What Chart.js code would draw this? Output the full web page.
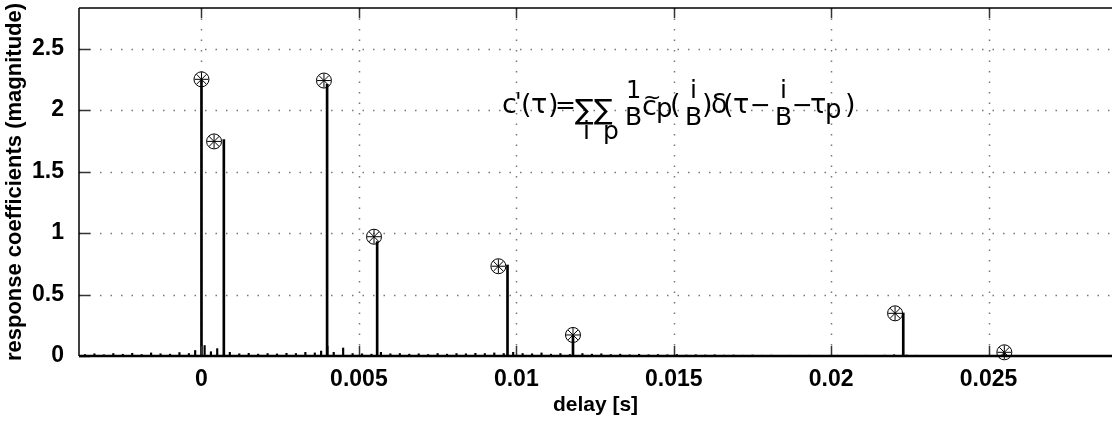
<!DOCTYPE html>
<html>
<head>
<meta charset="utf-8">
<script src="https://cdn.jsdelivr.net/npm/chart.js@4.4.0/dist/chart.umd.min.js"></script>
<style>
  html,body{margin:0;padding:0;background:#fff;overflow:hidden;}
  #chartResp{display:block;}
</style>
</head>
<body>
<canvas id="chartResp" width="1112" height="422"></canvas>
<script>
const xTicks = [0, 0.005, 0.01, 0.015, 0.02, 0.025];
const xTickLabels = ['0', '0.005', '0.01', '0.015', '0.02', '0.025'];
const yTicks = [0, 0.5, 1, 1.5, 2, 2.5];
const yTickLabels = ['0', '0.5', '1', '1.5', '2', '2.5'];

// main stems (delay in s, magnitude)
const stemDelay = [0.0000, 0.00071, 0.00399, 0.00558, 0.00972, 0.0118, 0.02229, 0.0255];
const stemMag   = [2.24,   1.76,    2.21,    0.93,    0.74,    0.17,   0.35,    0.02];

// circled asterisk markers
const markDelay = [0.0000, 0.00040, 0.00389, 0.00548, 0.00943, 0.0118, 0.02203, 0.0255];
const markMag   = [2.25,   1.745,   2.24,    0.97,    0.73,    0.171,  0.347,   0.03];

// small sidelobes along the base line
const noiseDelay = [-0.0037,-0.0034,-0.0031,-0.0028,-0.0025,-0.0022,-0.0019,-0.0016,-0.0013,-0.0010,
  -0.0007,-0.0004,-0.0002,0.0001,0.0003,0.0005,0.0009,0.0012,0.0015,0.0018,
  0.0021,0.0024,0.0027,0.0030,0.0033,0.0036,0.0038,0.0040,0.0042,0.0045,
  0.0048,0.0051,0.0054,0.0057,0.0060,0.0063,0.0066,0.0069,0.0072,0.0075,
  0.0078,0.0081,0.0084,0.0087,0.0090,0.0093,0.0096,0.0099,0.0102,0.0105,
  0.0108,0.0111,0.0114,0.0117,0.0121,0.0124,0.0127,0.0130,0.0133,0.0136,
  0.0139,0.0142,0.0145,0.0148,0.0151,0.0154,0.0157,0.0160,0.0163,0.0166,
  0.0169,0.0172,0.0175,0.0178,0.0181,0.0184,0.0187,0.0190,0.0193,0.0196,
  0.0199,0.0202,0.0205,0.0208,0.0211,0.0214,0.0217,0.0220,0.0224,0.0227,0.0230];
const noiseMag = [0.012,0.018,0.010,0.020,0.014,0.022,0.012,0.025,0.018,0.015,
  0.028,0.020,0.045,0.085,0.035,0.060,0.030,0.018,0.022,0.015,
  0.020,0.017,0.022,0.020,0.030,0.025,0.040,0.080,0.030,0.065,
  0.020,0.018,0.015,0.030,0.018,0.020,0.015,0.018,0.012,0.020,
  0.015,0.020,0.018,0.022,0.020,0.025,0.020,0.030,0.020,0.018,
  0.025,0.015,0.020,0.012,0.020,0.015,0.018,0.012,0.015,0.010,
  0.014,0.010,0.012,0.010,0.012,0.008,0.010,0.008,0.010,0.007,
  0.008,0.006,0.008,0.006,0.007,0.005,0.006,0.005,0.006,0.005,
  0.005,0.006,0.005,0.005,0.006,0.005,0.007,0.010,0.008,0.006,0.004];

const pairs = (xs, ys) => xs.map((x, i) => ({x: x, y: ys[i]}));

// dotted grid under the data, frame and inward ticks over it
const framePlugin = {
  id: 'frame',
  beforeDatasetsDraw(chart){
    const {ctx, chartArea: a, scales: {x, y}} = chart;
    ctx.save();
    ctx.strokeStyle = '#777';
    ctx.lineWidth = 1.5;
    ctx.setLineDash([1.5, 9]);
    xTicks.forEach(v => {
      const px = Math.round(x.getPixelForValue(v)) + 0.5;
      ctx.beginPath(); ctx.moveTo(px, a.top); ctx.lineTo(px, a.bottom); ctx.stroke();
    });
    yTicks.forEach(v => {
      if(v === 0) return;
      const py = Math.round(y.getPixelForValue(v)) + 0.5;
      ctx.beginPath(); ctx.moveTo(a.left, py); ctx.lineTo(a.right, py); ctx.stroke();
    });
    ctx.restore();
  },
  afterDatasetsDraw(chart){
    const {ctx, chartArea: a, scales: {x, y}} = chart;
    ctx.save();
    ctx.strokeStyle = '#333';
    ctx.lineWidth = 1.5;
    xTicks.forEach(v => {
      const px = Math.round(x.getPixelForValue(v)) + 0.5;
      ctx.beginPath(); ctx.moveTo(px, a.bottom); ctx.lineTo(px, a.bottom - 10); ctx.stroke();
      ctx.beginPath(); ctx.moveTo(px, a.top); ctx.lineTo(px, a.top + 10); ctx.stroke();
    });
    yTicks.forEach(v => {
      const py = Math.round(y.getPixelForValue(v)) + 0.5;
      ctx.beginPath(); ctx.moveTo(a.left, py); ctx.lineTo(a.left + 11, py); ctx.stroke();
    });
    ctx.strokeStyle = '#000';
    ctx.lineWidth = 1.7;
    ctx.beginPath(); ctx.moveTo(a.left, a.top); ctx.lineTo(a.right, a.top); ctx.stroke();
    ctx.lineWidth = 1.5;
    ctx.beginPath(); ctx.moveTo(a.left, a.top); ctx.lineTo(a.left, a.bottom); ctx.stroke();
    ctx.lineWidth = 2.5;
    ctx.beginPath(); ctx.moveTo(a.left, a.bottom); ctx.lineTo(a.right, a.bottom); ctx.stroke();
    ctx.restore();
  }
};

// the formula in the upper middle, laid out piece by piece
const formulaPlugin = {
  id: 'formula',
  afterDraw(chart){
    const ctx = chart.ctx;
    const f = 'DejaVu Sans, sans-serif';
    const put = (t, px, py, size) => {
      ctx.font = size + 'px ' + f;
      ctx.fillText(t, px, py);
    };
    ctx.save();
    ctx.fillStyle = '#000';
    ctx.textAlign = 'left';
    ctx.textBaseline = 'alphabetic';
    put('c', 502, 113, 27);
    put('\'', 515, 110, 24);
    put('(', 521, 113, 27);
    put('τ', 531, 113, 27);
    put(')', 548, 113, 27);
    put('=', 555, 113, 25);
    put('∑', 575, 119, 28);
    put('i', 583, 139, 25);
    put('∑', 594, 119, 28);
    put('p', 603, 139, 25);
    put('1', 626, 98, 24);
    put('B', 625, 125, 25);
    put('c', 642, 115, 27);
    put('~', 643, 104, 22);
    put('p', 656, 117, 26);
    put('(', 670, 113, 27);
    put('i', 690, 98, 25);
    put('B', 685, 125, 25);
    put(')', 702, 113, 27);
    put('δ', 711, 113, 27);
    put('(', 723, 113, 27);
    put('τ', 733, 113, 27);
    put('−', 750, 113, 25);
    put('i', 780, 98, 25);
    put('B', 775, 125, 25);
    put('−', 792, 113, 25);
    put('τ', 810, 113, 27);
    put('p', 825, 118, 26);
    put(')', 845, 113, 27);
    ctx.restore();
  }
};

new Chart(document.getElementById('chartResp'), {
  type: 'scatter',
  data: {
    datasets: [
      {
        type: 'bar',
        data: pairs(noiseDelay, noiseMag),
        backgroundColor: '#000',
        barThickness: 1.5,
        grouped: false,
        borderWidth: 0
      },
      {
        type: 'bar',
        data: pairs(stemDelay, stemMag),
        backgroundColor: '#000',
        barThickness: 2,
        grouped: false,
        borderWidth: 0
      },
      {
        type: 'scatter',
        data: pairs(markDelay, markMag),
        pointStyle: 'circle',
        pointRadius: 7.5,
        pointBorderWidth: 1,
        pointBorderColor: '#000',
        pointBackgroundColor: 'rgba(0,0,0,0)',
        clip: false
      },
      {
        type: 'scatter',
        data: pairs(markDelay, markMag),
        pointStyle: 'star',
        pointRadius: 7,
        pointBorderWidth: 1,
        pointBorderColor: '#000',
        pointBackgroundColor: 'rgba(0,0,0,0)',
        clip: false
      }
    ]
  },
  options: {
    responsive: false,
    animation: false,
    devicePixelRatio: 1,
    layout: { autoPadding: false, padding: { top: 8, right: 0, left: 0, bottom: 0 } },
    plugins: { legend: { display: false }, tooltip: { enabled: false } },
    scales: {
      x: {
        type: 'linear',
        min: -0.00389,
        max: 0.02892,
        offset: false,
        grid: { display: false, offset: false },
        border: { display: false },
        afterBuildTicks: s => { s.ticks = xTicks.map(v => ({value: v})); },
        afterFit: s => { s.height = 66; s.paddingLeft = 0; s.paddingRight = 0; },
        ticks: {
          color: '#000',
          padding: 2,
          maxRotation: 0,
          font: { family: 'Liberation Sans, Arial, sans-serif', size: 23, weight: 'bold' },
          callback: v => xTickLabels[xTicks.indexOf(v)]
        },
        title: {
          display: true,
          text: 'delay [s]',
          color: '#000',
          padding: { top: 0, bottom: 4 },
          font: { family: 'Liberation Sans, Arial, sans-serif', size: 21, weight: 'bold' }
        }
      },
      y: {
        min: 0,
        max: 2.83,
        grid: { display: false },
        border: { display: false },
        afterBuildTicks: s => { s.ticks = yTicks.map(v => ({value: v})); },
        afterFit: s => { s.width = 79; s.paddingTop = 0; s.paddingBottom = 0; },
        ticks: {
          color: '#000',
          padding: 7,
          font: { family: 'Liberation Sans, Arial, sans-serif', size: 23, weight: 'bold' },
          callback: v => yTickLabels[yTicks.indexOf(v)]
        },
        title: {
          display: true,
          text: 'response coefficients (magnitude)',
          color: '#000',
          padding: { top: 2, bottom: 0 },
          font: { family: 'Liberation Sans, Arial, sans-serif', size: 22, weight: 'bold' }
        }
      }
    }
  },
  plugins: [framePlugin, formulaPlugin]
});
</script>
</body>
</html>
